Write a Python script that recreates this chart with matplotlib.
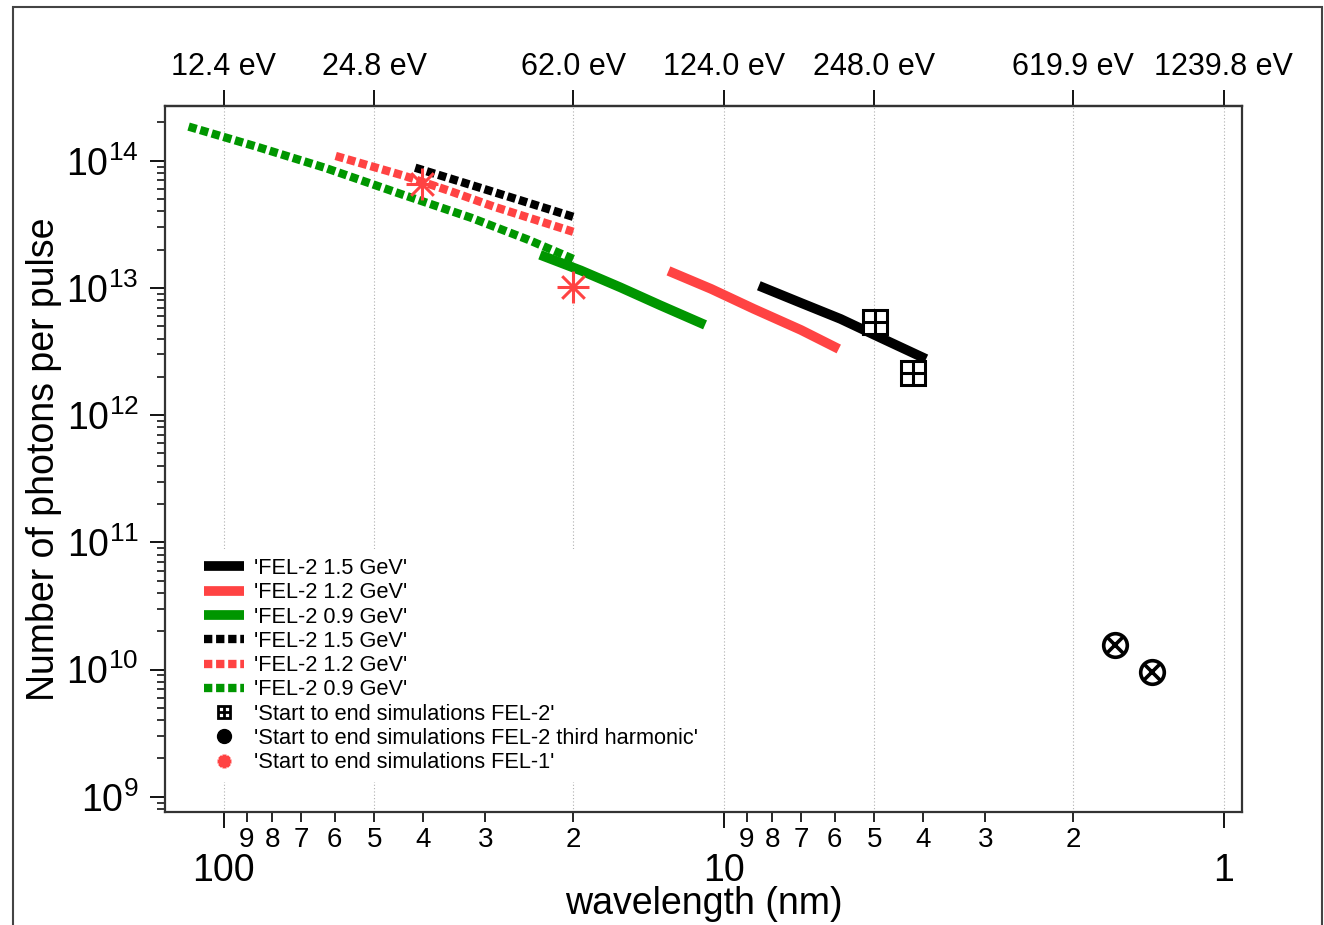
import numpy as np
import matplotlib
matplotlib.use("Agg")
import matplotlib.pyplot as plt
from matplotlib.lines import Line2D
from matplotlib.path import Path
from matplotlib.patches import Rectangle
from matplotlib.ticker import LogLocator, FixedLocator, FuncFormatter, NullLocator, NullFormatter

plt.rcParams['font.family'] = ['Liberation Sans', 'DejaVu Sans']

# --- data (wavelength in nm, photons per pulse) ---
# solid curves
fel2_15_wl = [8.51, 7.01, 5.84, 4.85, 3.94]
fel2_15_n = [1.04e13, 7.62e12, 5.70e12, 4.04e12, 2.76e12]
fel2_12_wl = [12.9, 10.6, 8.71, 7.01, 5.89]
fel2_12_n = [1.36e13, 9.82e12, 6.84e12, 4.67e12, 3.31e12]
fel2_09_wl = [23.3, 19.3, 16.1, 13.4, 10.9]
fel2_09_n = [1.82e13, 1.37e13, 1.01e13, 7.30e12, 5.12e12]
# dotted curves
fel2_15d_wl = [41.4, 30.3, 20.0]
fel2_15d_n = [8.81e13, 6.03e13, 3.62e13]
fel2_12d_wl = [59.7, 43.6, 35.4, 28.8, 20.0]
fel2_12d_n = [1.09e14, 7.62e13, 5.80e13, 4.35e13, 2.76e13]
fel2_09d_wl = [117.5, 85.9, 62.8, 43.8, 32.0, 24.6, 20.0]
fel2_09d_n = [1.854e14, 1.289e14, 8.81e13, 5.40e13, 3.56e13, 2.39e13, 1.69e13]
# start to end simulations
s2e_fel2_wl = [4.98, 4.18]
s2e_fel2_n = [5.4e12, 2.14e12]
s2e_h3_wl = [1.65, 1.39]
s2e_h3_n = [1.55e10, 9.6e9]
s2e_fel1_wl = [40.1, 20.0]
s2e_fel1_n = [6.6e13, 1.02e13]

ev_tick_nm = [100, 50, 20, 10, 5, 2, 1]
ev_labels = ["%.1f eV" % (1239.84 / w) for w in ev_tick_nm]

labels = ["'FEL-2 1.5 GeV'", "'FEL-2 1.2 GeV'", "'FEL-2 0.9 GeV'",
          "'FEL-2 1.5 GeV'", "'FEL-2 1.2 GeV'", "'FEL-2 0.9 GeV'",
          "'Start to end simulations FEL-2'",
          "'Start to end simulations FEL-2 third harmonic'",
          "'Start to end simulations FEL-1'"]

BLACK = '#000000'
RED = '#ff4343'
GREEN = '#009600'
dot = (0, (1, 0.45))

# 8-arm asterisk marker
ast = Path([(-1, 0), (1, 0), (0, -1), (0, 1),
            (-0.707, -0.707), (0.707, 0.707), (-0.707, 0.707), (0.707, -0.707)],
           [Path.MOVETO, Path.LINETO] * 4)

fig = plt.figure(figsize=(13.24, 9.25), dpi=100)
ax = fig.add_axes([0.1246, 0.1222, 0.8135, 0.7632])
fig.patches.append(Rectangle((0.0098, -0.02), 0.9887, 1.0124, transform=fig.transFigure,
                             fill=False, edgecolor='#444444', lw=1.5))

for w in ev_tick_nm:
    ax.axvline(w, color='#b0b0b0', lw=0.8, ls=(0, (1, 2)), zorder=0.5)

lw_solid = 7
ax.plot(fel2_15_wl, fel2_15_n, color=BLACK, lw=lw_solid, solid_capstyle='butt', solid_joinstyle='round')
ax.plot(fel2_12_wl, fel2_12_n, color=RED, lw=lw_solid, solid_capstyle='butt', solid_joinstyle='round')
ax.plot(fel2_09_wl, fel2_09_n, color=GREEN, lw=lw_solid, solid_capstyle='butt', solid_joinstyle='round')
lw_dot = 6
ax.plot(fel2_15d_wl, fel2_15d_n, color=BLACK, lw=lw_dot, ls=dot)
ax.plot(fel2_12d_wl, fel2_12d_n, color=RED, lw=lw_dot, ls=dot)
ax.plot(fel2_09d_wl, fel2_09d_n, color=GREEN, lw=lw_dot, ls=dot)

ax.plot(s2e_fel2_wl, s2e_fel2_n, ls='none', marker='s', ms=17, mfc='white', mec=BLACK, mew=2.2)
ax.plot(s2e_fel2_wl, s2e_fel2_n, ls='none', marker='+', ms=17, mec=BLACK, mew=2.2)
ax.plot(s2e_h3_wl, s2e_h3_n, ls='none', marker='o', ms=17, mfc='white', mec=BLACK, mew=2.6)
ax.plot(s2e_h3_wl, s2e_h3_n, ls='none', marker='x', ms=12, mec=BLACK, mew=2.6)
ax.plot(s2e_fel1_wl, s2e_fel1_n, ls='none', marker=ast, ms=23, mec=RED, mew=2.2)

ax.set_xscale('log')
ax.set_yscale('log')
ax.set_xlim(131, 0.92)
ax.set_ylim(10 ** 8.88, 10 ** 14.43)

# bottom axis
ax.xaxis.set_major_locator(FixedLocator([100, 10, 1]))
ax.xaxis.set_major_formatter(FuncFormatter(lambda v, p: "%g" % v))
ax.xaxis.set_minor_locator(LogLocator(base=10, subs=np.arange(2, 10)))
ax.xaxis.set_minor_formatter(FuncFormatter(
    lambda v, p: "%d" % round(v / 10 ** np.floor(np.log10(v) + 1e-9))))
ax.tick_params(axis='x', which='major', direction='out', length=11.5, width=1.3,
               labelsize=27, pad=18, top=False)
ax.tick_params(axis='x', which='minor', direction='out', length=7, width=1.2,
               labelsize=20, pad=4, top=False)
# left axis
ax.tick_params(axis='y', which='major', direction='out', length=11, width=1.3,
               labelsize=27, pad=8, right=False)
ax.tick_params(axis='y', which='minor', direction='out', length=6, width=1.1, right=False)
ax.yaxis.set_minor_formatter(NullFormatter())

for s in ax.spines.values():
    s.set_color('#333333')
    s.set_linewidth(1.6)

# top axis in eV
top = ax.secondary_xaxis('top')
top.set_xticks(ev_tick_nm)
top.set_xticklabels(ev_labels)
top.xaxis.set_minor_locator(NullLocator())
top.tick_params(axis='x', direction='out', length=11.5, width=1.3, labelsize=22, pad=5.5)
top.spines['top'].set_color('#333333')
top.spines['top'].set_linewidth(1.6)

ax.set_xlabel("wavelength (nm)", fontsize=27, labelpad=-2)
ax.set_ylabel("Number of photons per pulse", fontsize=27, labelpad=3)

handles = [
    Line2D([], [], color=BLACK, lw=lw_solid, solid_capstyle='butt'),
    Line2D([], [], color=RED, lw=lw_solid, solid_capstyle='butt'),
    Line2D([], [], color=GREEN, lw=lw_solid, solid_capstyle='butt'),
    Line2D([], [], color=BLACK, lw=lw_dot, ls=dot),
    Line2D([], [], color=RED, lw=lw_dot, ls=dot),
    Line2D([], [], color=GREEN, lw=lw_dot, ls=dot),
    (Line2D([], [], ls='none', marker='s', ms=9, mfc='white', mec=BLACK, mew=2),
     Line2D([], [], ls='none', marker='+', ms=9, mec=BLACK, mew=2)),
    Line2D([], [], ls='none', marker='o', ms=10, mfc=BLACK, mec=BLACK),
    Line2D([], [], ls='none', marker=ast, ms=10, mec=RED, mew=3),
]
leg = ax.legend(handles, labels, loc='upper left', bbox_to_anchor=(0.028, 0.372),
                borderaxespad=0, borderpad=0.4, fontsize=15.7, labelspacing=0.15,
                handlelength=1.85, handletextpad=0.45, numpoints=1,
                frameon=True, fancybox=False, framealpha=1,
                facecolor='white', edgecolor='none')
leg.set_zorder(5)

fig.savefig('out.png', dpi=100)
